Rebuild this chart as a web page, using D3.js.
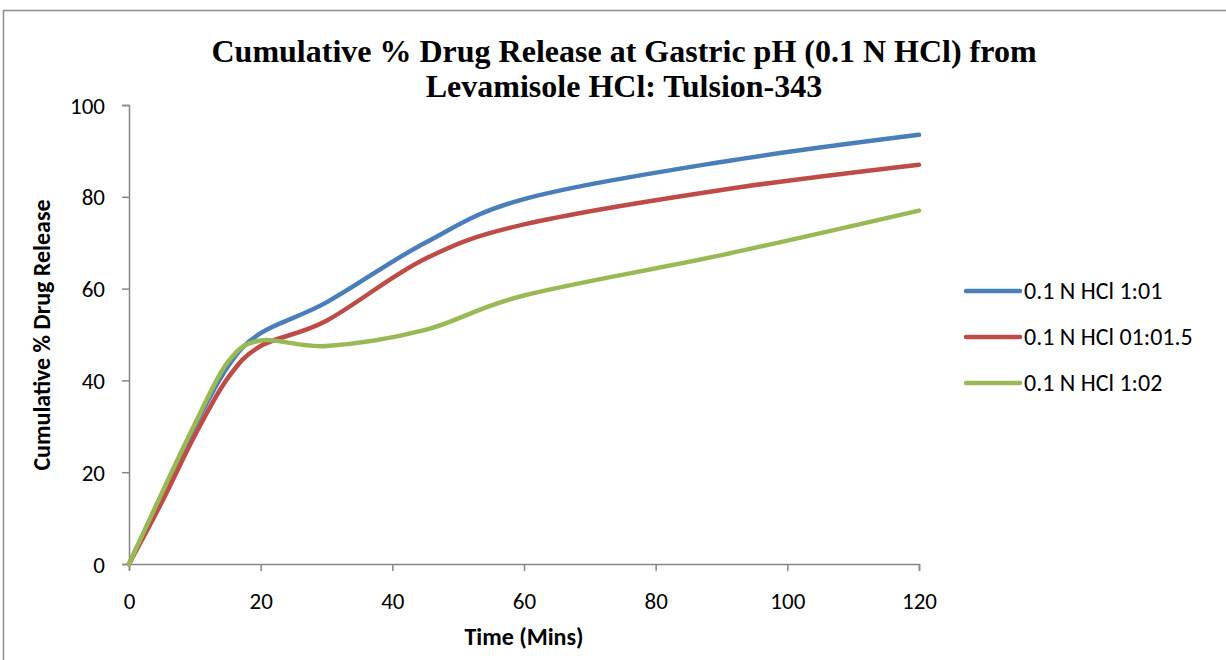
<!DOCTYPE html>
<html>
<head>
<meta charset="utf-8">
<script src="https://cdn.jsdelivr.net/npm/d3@7"></script>
<style>
  body { margin: 0; background: #fff; }
  svg { display: block; }
</style>
</head>
<body>
<svg width="1226" height="660"></svg>
<script>
// chart data
const times = [0, 5, 10, 15, 20, 30, 45, 60, 90, 120];
const seriesNames = ["0.1 N HCl 1:01", "0.1 N HCl 01:01.5", "0.1 N HCl 1:02"];
const blueValues = [0, 15, 30, 43, 50.3, 57, 70, 79.5, 87.6, 93.5];
const redValues = [0, 13.5, 28, 40.5, 47.5, 53, 66.5, 74, 81.5, 87];
const greenValues = [0, 15.5, 30.5, 44, 48.7, 47.5, 51, 58.5, 67.3, 77];
const xTicks = [0, 20, 40, 60, 80, 100, 120];
const yTicks = [0, 20, 40, 60, 80, 100];
const colors = ["#4A7EBB", "#BE4B48", "#98B954"];

const svg = d3.select("svg"),
      width = +svg.attr("width"),
      height = +svg.attr("height");

const tickFont = "Carlito, Calibri, Lato, sans-serif";

// outer frame
svg.append("path")
    .attr("d", "M3.5,660 L3.5,10.5 L1226,10.5")
    .attr("fill", "none")
    .attr("stroke", "#8c8c8c")
    .attr("stroke-width", 1.5);

const x = d3.scaleLinear().domain([0, 120]).range([129, 919]);
const y = d3.scaleLinear().domain([0, 100]).range([564, 105]);

// axes
const xAxis = svg.append("g")
    .attr("transform", `translate(0,${y(0)})`)
    .call(d3.axisBottom(x).tickValues(xTicks).tickSize(7).tickPadding(22));
const yAxis = svg.append("g")
    .attr("transform", `translate(${x(0)},0)`)
    .call(d3.axisLeft(y).tickValues(yTicks).tickSize(7).tickPadding(17));

[xAxis, yAxis].forEach(a => {
    a.select(".domain").attr("stroke", "#868686").attr("stroke-width", 1.5);
    a.selectAll(".tick line").attr("stroke", "#868686").attr("stroke-width", 1.5);
    a.selectAll(".tick text")
        .attr("fill", "#000")
        .style("font-family", tickFont)
        .style("font-size", "23px");
});
yAxis.selectAll(".tick text").attr("dy", "0.35em");

// lines
const allValues = [blueValues, redValues, greenValues];
const line = d3.line()
    .x((d, i) => x(times[i]))
    .y(d => y(d))
    .curve(d3.curveCardinal.tension(0));

svg.append("g")
    .selectAll("path")
    .data(allValues)
    .enter().append("path")
    .attr("d", d => line(d))
    .attr("fill", "none")
    .attr("stroke", (d, i) => colors[i])
    .attr("stroke-width", 4.5)
    .attr("stroke-linecap", "round")
    .attr("stroke-linejoin", "round");

// title
const title = svg.append("text")
    .attr("text-anchor", "middle")
    .style("font-family", "'Liberation Serif', 'Times New Roman', serif")
    .style("font-weight", "bold")
    .style("font-size", "32px");
title.append("tspan").attr("x", 624).attr("y", 62)
    .text("Cumulative % Drug Release at Gastric pH (0.1 N HCl) from");
title.append("tspan").attr("x", 624).attr("y", 97)
    .text("Levamisole HCl: Tulsion-343");

// axis titles
svg.append("text")
    .attr("x", 524).attr("y", 645)
    .attr("text-anchor", "middle")
    .style("font-family", tickFont)
    .style("font-weight", "bold")
    .style("font-size", "24px")
    .text("Time (Mins)");

svg.append("text")
    .attr("transform", "translate(50,335) rotate(-90)")
    .attr("text-anchor", "middle")
    .style("font-family", tickFont)
    .style("font-weight", "bold")
    .style("font-size", "24px")
    .text("Cumulative % Drug Release");

// legend
const legend = svg.append("g")
    .selectAll("g")
    .data(seriesNames)
    .enter().append("g")
    .attr("transform", (d, i) => `translate(966,${291 + i * 46})`);

legend.append("line")
    .attr("x1", 0).attr("x2", 54)
    .attr("stroke", (d, i) => colors[i])
    .attr("stroke-width", 4.5)
    .attr("stroke-linecap", "round");

legend.append("text")
    .attr("x", 58)
    .attr("dy", "0.35em")
    .style("font-family", tickFont)
    .style("font-size", "24px")
    .text(d => d);
</script>
</body>
</html>
